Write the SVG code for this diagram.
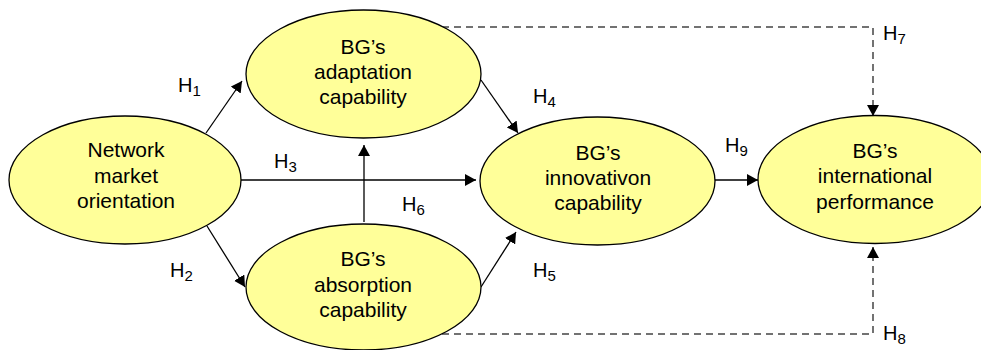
<svg xmlns="http://www.w3.org/2000/svg" width="981" height="350" viewBox="0 0 981 350">
<style>
.node ellipse{fill:#FFFF99;stroke:#000;stroke-width:1.3}
.node text{font-family:"Liberation Sans",Arial,sans-serif;font-size:21px;fill:#000;text-anchor:middle}
.lbl{font-family:"Liberation Sans",Arial,sans-serif;font-size:20px;fill:#000}
.sub{font-size:15px}
.solid{stroke:#000;stroke-width:1.3;fill:none;marker-end:url(#arr)}
.dash{stroke:#444;stroke-width:1.5;fill:none;stroke-dasharray:7 5;marker-end:url(#arr)}
</style>
<defs>
<marker id="arr" markerUnits="userSpaceOnUse" markerWidth="11" markerHeight="12" viewBox="0 0 11 12" refX="11" refY="6" orient="auto">
<path d="M0,0 L11,6 L0,12 z" fill="#000"/>
</marker>
</defs>
<rect width="981" height="350" fill="#fff"/>
<g id="connectors">
<line class="solid" x1="206" y1="133" x2="242" y2="81"/>
<line class="solid" x1="207" y1="226" x2="245" y2="287"/>
<line class="solid" x1="240" y1="180" x2="476" y2="180"/>
<line class="solid" x1="364" y1="222" x2="364" y2="145"/>
<line class="solid" x1="481" y1="80" x2="518" y2="133"/>
<line class="solid" x1="481" y1="287" x2="516" y2="232"/>
<line class="solid" x1="715" y1="180" x2="758" y2="180"/>
<polyline class="dash" points="442,27 873,27 873,116"/>
<polyline class="dash" points="442,334 873,334 873,247"/>
</g>
<g id="labels">
<text class="lbl" x="178" y="92">H<tspan class="sub" dy="4">1</tspan></text>
<text class="lbl" x="170" y="277">H<tspan class="sub" dy="4">2</tspan></text>
<text class="lbl" x="274" y="168">H<tspan class="sub" dy="4">3</tspan></text>
<text class="lbl" x="533" y="103">H<tspan class="sub" dy="4">4</tspan></text>
<text class="lbl" x="533" y="277">H<tspan class="sub" dy="4">5</tspan></text>
<text class="lbl" x="402" y="211">H<tspan class="sub" dy="4">6</tspan></text>
<text class="lbl" x="883" y="40">H<tspan class="sub" dy="4">7</tspan></text>
<text class="lbl" x="883" y="340">H<tspan class="sub" dy="4">8</tspan></text>
<text class="lbl" x="725" y="152">H<tspan class="sub" dy="4">9</tspan></text>
</g>
<g id="network" class="node">
<ellipse cx="125" cy="180" rx="116" ry="64"/>
<text x="126" y="157">Network</text>
<text x="126" y="182.5">market</text>
<text x="126" y="208">orientation</text>
</g>
<g id="adaptation" class="node">
<ellipse cx="363.5" cy="74" rx="117.5" ry="64"/>
<text x="363" y="53.5">BG’s</text>
<text x="363" y="79">adaptation</text>
<text x="363" y="104">capability</text>
</g>
<g id="absorption" class="node">
<ellipse cx="363.5" cy="287" rx="117.5" ry="63"/>
<text x="363" y="266">BG’s</text>
<text x="363" y="291.5">absorption</text>
<text x="363" y="317">capability</text>
</g>
<g id="innovation" class="node">
<ellipse cx="597.5" cy="181" rx="117.5" ry="64"/>
<text x="598" y="159.5">BG’s</text>
<text x="598" y="185">innovativon</text>
<text x="598" y="210">capability</text>
</g>
<g id="performance" class="node">
<ellipse cx="875" cy="179.5" rx="117" ry="64"/>
<text x="875" y="157.5">BG’s</text>
<text x="875" y="183">international</text>
<text x="875" y="208.5">performance</text>
</g>
</svg>
